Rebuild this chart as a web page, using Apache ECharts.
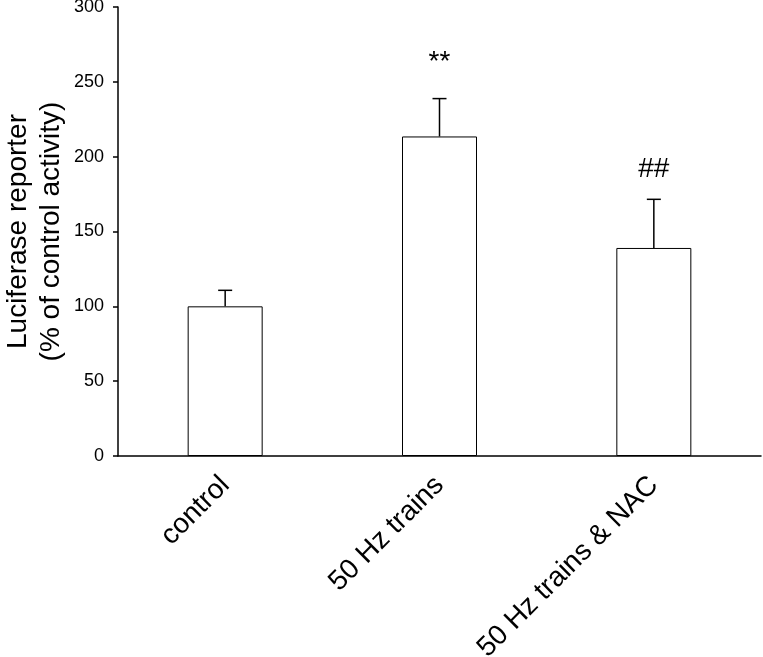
<!DOCTYPE html>
<html>
<head>
<meta charset="utf-8">
<script src="https://cdn.jsdelivr.net/npm/echarts@6/dist/echarts.min.js"></script>
<style>html,body{margin:0;padding:0;background:#fff;}#c{width:763px;height:657px;}</style>
</head>
<body>
<div id="c"></div>
<script>
var categories = ['control', '50 Hz trains', '50 Hz trains & NAC'];
var means = [100, 213.5, 139];
var errTops = [110.7, 238.8, 171.5];
var marks = ['', '**', '##'];
var markLevels = [0, 263, 191.5];
var yTicks = [0, 50, 100, 150, 200, 250, 300];

var chart = echarts.init(document.getElementById('c'), null, {renderer: 'canvas'});
var FONT = 'Liberation Sans, Arial, Helvetica, sans-serif';
var errData = categories.map(function (c, i) { return [i, means[i], errTops[i], marks[i], markLevels[i]]; });

chart.setOption({
  animation: false,
  backgroundColor: '#fff',
  grid: {left: 118, right: 2, top: 7, bottom: 201, containLabel: false, outerBoundsMode: 'none'},
  xAxis: {
    type: 'category',
    data: categories,
    axisLine: {lineStyle: {color: '#000', width: 1.5}},
    axisTick: {show: false},
    axisLabel: {rotate: 45, fontSize: 28, color: '#000', fontFamily: FONT, margin: 25, interval: 0, hideOverlap: false}
  },
  yAxis: {
    type: 'value',
    min: yTicks[0], max: yTicks[yTicks.length - 1], interval: 50,
    name: 'Luciferase reporter\n(% of control activity)',
    nameLocation: 'middle', nameRotate: 90, nameGap: 50, nameMoveOverlap: false,
    nameTextStyle: {fontSize: 28, color: '#000', fontFamily: FONT, lineHeight: 33},
    axisLine: {show: true, lineStyle: {color: '#000', width: 1.5}},
    axisTick: {show: true, length: 5, lineStyle: {color: '#000', width: 1.5}},
    axisLabel: {fontSize: 18, color: '#000', fontFamily: FONT, margin: 14},
    splitLine: {show: false}
  },
  series: [
    {
      type: 'bar',
      data: means,
      barWidth: 75,
      itemStyle: {color: '#fff', borderColor: '#000', borderWidth: 1},
      z: 2
    },
    {
      type: 'custom',
      data: errData,
      z: 3,
      renderItem: function (params, api) {
        var x = api.value(0);
        var base = api.coord([x, api.value(1)]);
        var top = api.coord([x, api.value(2)]);
        var cap = 7;
        var children = [
          {type: 'line', shape: {x1: base[0], y1: base[1], x2: top[0], y2: top[1]}, style: {stroke: '#000', lineWidth: 1.5}},
          {type: 'line', shape: {x1: top[0] - cap, y1: top[1], x2: top[0] + cap, y2: top[1]}, style: {stroke: '#000', lineWidth: 1.5}}
        ];
        var m = api.value(3);
        if (m) {
          var mp = api.coord([x, api.value(4)]);
          children.push({type: 'text', style: {text: m, x: mp[0], y: mp[1], textAlign: 'center', textVerticalAlign: 'middle', font: '28px ' + FONT, fill: '#000'}});
        }
        return {type: 'group', children: children};
      }
    }
  ]
});
</script>
</body>
</html>
